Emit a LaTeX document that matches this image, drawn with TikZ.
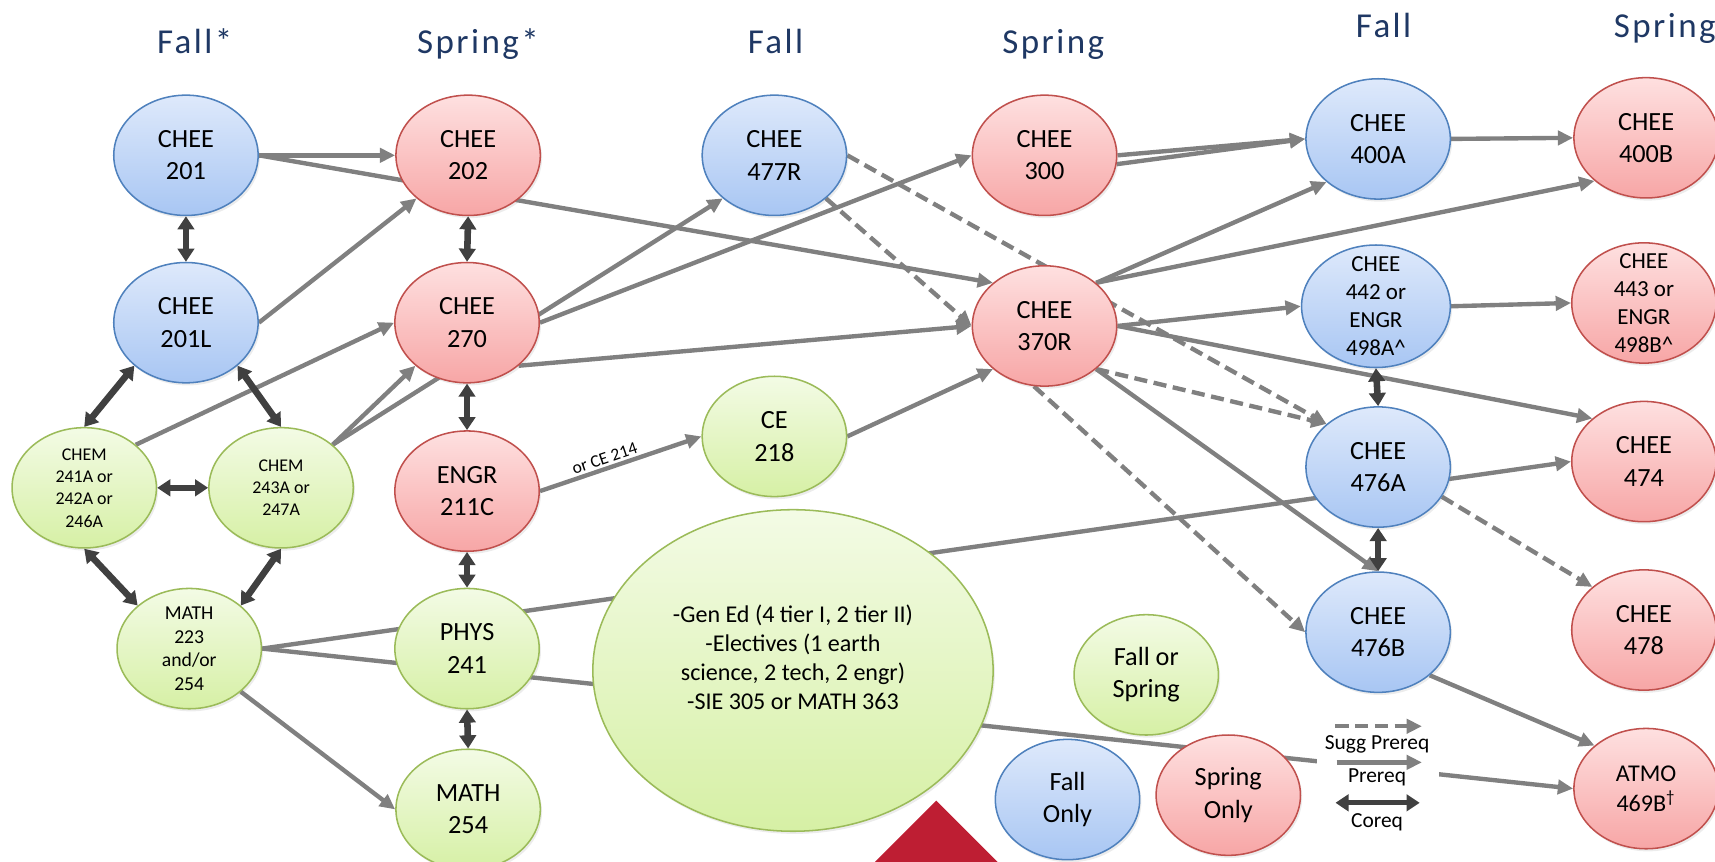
\documentclass[tikz,border=0pt]{standalone}
\usepackage{fontspec}
\setmainfont{Carlito}
\newfontfamily\termfont[LetterSpace=7]{Carlito}
\usetikzlibrary{shapes.geometric,arrows.meta,backgrounds,shadows}

\definecolor{fallline}{RGB}{79,129,189}
\definecolor{falltop}{RGB}{222,233,251}
\definecolor{fallbot}{RGB}{168,198,243}
\definecolor{sprline}{RGB}{192,80,77}
\definecolor{sprtop}{RGB}{254,224,224}
\definecolor{sprbot}{RGB}{247,166,166}
\definecolor{anyline}{RGB}{155,187,89}
\definecolor{anytop}{RGB}{243,251,229}
\definecolor{anybot}{RGB}{214,240,165}
\definecolor{linkgray}{RGB}{128,128,128}
\definecolor{coreqgray}{RGB}{64,64,64}
\definecolor{termnavy}{RGB}{31,56,100}
\definecolor{flagred}{RGB}{190,30,51}

\begin{document}
\begin{tikzpicture}[x=0.5pt, y=-0.5pt,
  course/.style={shape=ellipse, line width=0.7pt, inner sep=-10pt, minimum width=66pt, minimum height=55pt, align=center, font=\fontsize{12}{14.8}\selectfont, drop shadow={opacity=0.15, shadow xshift=0.8pt, shadow yshift=-1.2pt}},
  fallc/.style={course, draw=fallline, top color=falltop, bottom color=fallbot},
  springc/.style={course, draw=sprline, top color=sprtop, bottom color=sprbot},
  anyc/.style={course, draw=anyline, top color=anytop, bottom color=anybot},
  term/.style={anchor=base, text=termnavy, font=\termfont\fontsize{16}{19}\selectfont},
  prereq/.style={-{Triangle[length=7pt,width=6.5pt]}, line width=2pt, draw=linkgray},
  sugg/.style={prereq, dash pattern=on 6pt off 3pt},
  coreq/.style={{Triangle[length=6pt,width=7.5pt]}-{Triangle[length=6pt,width=7.5pt]}, line width=3pt, draw=coreqgray},
  keytxt/.style={font=\fontsize{9.8}{11}\selectfont}]
\useasboundingbox (0,0) rectangle (1568,788);

% term headings
\node[term] (tfall1) at (178,49) {Fall*};
\node[term] (tspr1) at (437,49) {Spring*};
\node[term] (tfall2) at (709,49) {Fall};
\node[term] (tspr2) at (963,49) {Spring};
\node[term] (tfall3) at (1265,34) {Fall};
\node[term] (tspr3) at (1522,34) {Spring};

% courses
\node[fallc] (c201) at (170,142) {CHEE\\201};
\node[fallc] (c201L) at (170,295) {CHEE\\201L};
\node[anyc, font=\fontsize{8.2}{10.2}\selectfont] (chemA) at (77,446) {CHEM\\241A or\\242A or\\246A};
\node[anyc, font=\fontsize{8.2}{10.2}\selectfont] (chemB) at (257,446) {CHEM\\243A or\\247A};
\node[anyc, font=\fontsize{9}{10.8}\selectfont] (math223) at (173,593) {MATH\\223\\and/or\\254};
\node[springc] (c202) at (428,142) {CHEE\\202};
\node[springc] (c270) at (427,295) {CHEE\\270};
\node[springc] (e211) at (427,449) {ENGR\\211C};
\node[anyc] (phys) at (427,593) {PHYS\\241};
\node[anyc] (math254) at (428,740) {MATH\\254};
\node[fallc] (c477) at (708,142) {CHEE\\477R};
\node[anyc] (ce218) at (708,399) {CE\\218};
\node[anyc, minimum width=183pt, minimum height=147pt] (gened) at (725,613) {};
\node[font=\fontsize{11}{13.3}\selectfont, align=center] (genedtxt) at (725,601) {-Gen Ed (4 tier I, 2 tier II)\\-Electives (1 earth\\science, 2 tech, 2 engr)\\-SIE 305 or MATH 363};
\node[springc] (c300) at (955,142) {CHEE\\300};
\node[springc] (c370) at (955,298) {CHEE\\370R};
\node[anyc] (fos) at (1048,617) {Fall or\\Spring};
\node[fallc] (fonly) at (976,731) {Fall\\Only};
\node[springc] (sonly) at (1123,727) {Spring\\Only};
\node[fallc] (c400A) at (1260,127) {CHEE\\400A};
\node[fallc, minimum width=68pt, minimum height=56pt, font=\fontsize{10.5}{12.7}\selectfont] (c442) at (1258,280) {CHEE\\442 or\\ENGR\\498A\textasciicircum};
\node[fallc] (c476A) at (1260,427) {CHEE\\476A};
\node[fallc] (c476B) at (1260,578) {CHEE\\476B};
\node[springc] (c400B) at (1505,126) {CHEE\\400B};
\node[springc, font=\fontsize{10.5}{12.7}\selectfont] (c443) at (1503,277) {CHEE\\443 or\\ENGR\\498B\textasciicircum};
\node[springc] (c474) at (1503,422) {CHEE\\474};
\node[springc] (c478) at (1503,576) {CHEE\\478};
\node[springc, font=\fontsize{11}{13.5}\selectfont] (atmo) at (1505,721) {ATMO\\469B\textsuperscript{\textdagger}};

% prerequisites, behind the courses
\begin{pgfonlayer}{background}
\path (c201.east) edge [prereq] (c202.west);
\path (c201.east) edge [prereq] (c370.north west);
\path (c201L.east) edge [prereq] (c202.south west);
\path (chemA.north east) edge [prereq] (c270.west);
\path (chemB.north east) edge [prereq] (c270.south west);
\path (chemB.north east) edge [prereq] (c477.south west);
\path (c270.east) edge [prereq] (c300.west);
\path (c270.south east) edge [prereq] (c370.west);
\path (e211.east) edge [prereq] node[pos=0.42, above, sloped, inner sep=1pt, font=\fontsize{8}{9}\selectfont] (orce) {or CE 214} (ce218.west);
\path (ce218.east) edge [prereq] (c370.south west);
\path (math223.east) edge [prereq] (c474.west);
\path (math223.east) edge [prereq] (atmo.west);
\path (math223.south east) edge [prereq] (math254.west);
\path (c300.east) edge [prereq] (c400A.west);
\path (c300.-7) edge [prereq] (c400A.west);
\path (c370.north east) edge [prereq] (c400A.south west);
\path (c370.north east) edge [prereq] (c400B.south west);
\path (c370.east) edge [prereq] (c442.west);
\path (c370.east) edge [prereq] (c474.north west);
\path (c370.south east) edge [prereq] (c476B.north);
\path (c400A.east) edge [prereq] (c400B.west);
\path (c442.east) edge [prereq] (c443.west);
\path (c476B.south east) edge [prereq] (atmo.north west);
\path (c477.east) edge [sugg] (c476A.north west);
\path (c477.south east) edge [sugg] (c370.west);
\path (c370.south east) edge [sugg] (c476A.north west);
\path (c370.-100) edge [sugg] (c476B.west);
\path (c476A.-25) edge [sugg] (c478.north west);
\end{pgfonlayer}

% corequisites
\path (c201.south) edge [coreq] (c201L.north);
\path (c201L.south west) edge [coreq] (chemA.north);
\path (c201L.south east) edge [coreq] (chemB.north);
\path (chemA.east) edge [coreq] (chemB.west);
\path (chemA.south) edge [coreq] (math223.north west);
\path (chemB.south) edge [coreq] (math223.north east);
\path (c202.south) edge [coreq] (c270.north);
\path (c270.south) edge [coreq] (e211.north);
\path (e211.south) edge [coreq] (phys.north);
\path (phys.south) edge [coreq] (math254.north);
\path (c442.south) edge [coreq] (c476A.north);
\path (c476A.south) edge [coreq] (c476B.north);

% key
\node[fill=white, minimum width=56pt, minimum height=57pt] (keybox) at (1260,708) {};
\coordinate (sgA) at (1221,664); \coordinate (sgB) at (1300,664);
\coordinate (prA) at (1222,697); \coordinate (prB) at (1300,697);
\coordinate (coA) at (1221,734); \coordinate (coB) at (1298,734);
\path (sgA) edge [sugg] (sgB);
\node[keytxt] (sgtxt) at (1259,681) {Sugg Prereq};
\path (prA) edge [prereq] (prB);
\node[keytxt] (prtxt) at (1259,711) {Prereq};
\path (coA) edge [coreq, line width=2.2pt] (coB);
\node[keytxt] (cotxt) at (1259,752) {Coreq};

\fill[flagred] (856,732) -- (800,788) -- (912,788) -- cycle;
\end{tikzpicture}
\end{document}
